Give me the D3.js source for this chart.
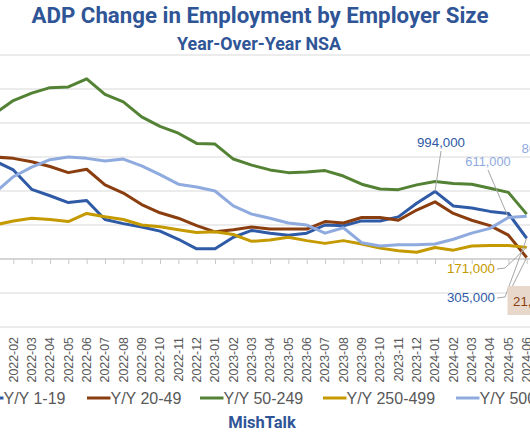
<!DOCTYPE html>
<html><head><meta charset="utf-8">
<script src="https://cdn.jsdelivr.net/npm/d3@7/dist/d3.min.js"></script>
<style>body{margin:0;background:#fff}svg{display:block}</style>
</head><body>
<script>
const months = ["2022-01","2022-02","2022-03","2022-04","2022-05","2022-06","2022-07","2022-08","2022-09","2022-10","2022-11","2022-12",
"2023-01","2023-02","2023-03","2023-04","2023-05","2023-06","2023-07","2023-08","2023-09","2023-10","2023-11","2023-12",
"2024-01","2024-02","2024-03","2024-04","2024-05","2024-06"];
const s1_19 = [1440000,1310000,1025000,930000,830000,860000,580000,520000,470000,410000,290000,150000,150000,320000,420000,380000,350000,380000,500000,490000,560000,560000,620000,820000,994000,780000,750000,700000,670000,305000];
const s20_49 = [1500000,1480000,1430000,1360000,1270000,1320000,1090000,970000,800000,680000,600000,490000,400000,430000,470000,440000,440000,440000,550000,530000,610000,610000,570000,720000,840000,670000,570000,490000,350000,21000];
const s50_249 = [2140000,2330000,2440000,2520000,2530000,2650000,2420000,2310000,2090000,1950000,1850000,1700000,1690000,1470000,1380000,1310000,1270000,1280000,1300000,1220000,1100000,1030000,1020000,1090000,1140000,1110000,1100000,1040000,980000,660000];
const s250_499 = [500000,560000,600000,580000,550000,670000,620000,580000,500000,475000,430000,390000,400000,360000,260000,280000,320000,270000,230000,270000,220000,160000,120000,100000,170000,130000,190000,200000,200000,171000];
const s500 = [975000,1210000,1350000,1460000,1500000,1480000,1440000,1470000,1370000,1240000,1100000,1060000,1000000,780000,660000,600000,530000,500000,380000,460000,240000,190000,210000,210000,220000,290000,380000,450000,611000,630000];
const seriesNames = ["Y/Y 1-19","Y/Y 20-49","Y/Y 50-249","Y/Y 250-499","Y/Y 500+"];
const yTicks = [-1000000,-500000,0,500000,1000000,1500000,2000000,2500000,3000000];
const title = "ADP Change in Employment by Employer Size";
const subtitle = "Year-Over-Year NSA";
const credit = "MishTalk";

const colors = ["#2f5aa6","#8a3d0e","#548235","#c49a00","#8eaadf"];
const allSeries = [s1_19, s20_49, s50_249, s250_499, s500];

const W = 530, H = 442;
const svg = d3.select("body").append("svg").attr("width", W).attr("height", H);
const font = "'Liberation Sans', Arial, sans-serif";

const x = d3.scalePoint().domain(months).range([-5, 526.7]);
const y = d3.scaleLinear().domain([-1000000, 3000000]).range([327, 55]);

// gridlines
svg.append("g").selectAll("line").data(yTicks.filter(d => d !== 0)).join("line")
  .attr("x1", 0).attr("x2", W).attr("y1", d => y(d)).attr("y2", d => y(d))
  .attr("stroke", "#d9d9d9").attr("stroke-width", 1.2);

// zero axis with ticks
const xAxis = d3.axisBottom(x).tickSize(5).tickFormat("");
const gx = svg.append("g").attr("transform", `translate(0,${y(0)})`).call(xAxis);
gx.select(".domain").attr("stroke", "#c8c8c8").attr("stroke-width", 1.3).attr("d", `M0,0H${W}`);
gx.selectAll(".tick line").attr("stroke", "#c8c8c8").attr("stroke-width", 1);

// x labels at bottom, rotated (first month lies outside the visible crop)
svg.append("g").selectAll("text").data(months.filter(m => x(m) > 0)).join("text")
  .attr("transform", d => `translate(${x(d)},337) rotate(-90)`)
  .attr("text-anchor", "end").attr("dy", "0.36em")
  .attr("font-family", font).attr("font-size", 12.4).attr("fill", "#595959")
  .text(d => d);

// lines
const line = d3.line().x((d, i) => x(months[i])).y(d => y(d));
allSeries.forEach((s, k) => {
  svg.append("path").datum(s).attr("d", line).attr("fill", "none")
    .attr("stroke", colors[k]).attr("stroke-width", 3).attr("stroke-linejoin", "round");
});

// titles
svg.append("text").attr("x", 260).attr("y", 23).attr("text-anchor", "middle")
  .attr("font-family", "Roboto, sans-serif").attr("font-weight", 700).attr("font-size", 22.5)
  .attr("fill", "#2f5597").attr("textLength", 457).attr("lengthAdjust", "spacingAndGlyphs").text(title);
svg.append("text").attr("x", 259).attr("y", 50).attr("text-anchor", "middle")
  .attr("font-family", "Roboto, sans-serif").attr("font-weight", 700).attr("font-size", 19)
  .attr("fill", "#2f5597").attr("textLength", 164).attr("lengthAdjust", "spacingAndGlyphs").text(subtitle);

// data labels
const fmt = d3.format(",");
function leader(pts) {
  svg.append("path").attr("d", d3.line()(pts)).attr("fill", "none").attr("stroke", "#a6a6a6").attr("stroke-width", 1);
}
const last = months.length - 1;
leader([[441, 151], [x(months[24]), y(s1_19[24])]]);
svg.append("text").attr("x", 441).attr("y", 147).attr("text-anchor", "middle").attr("font-family", font)
  .attr("font-size", 13.3).attr("fill", colors[0]).text(fmt(s1_19[24]));
leader([[488, 170], [x(months[28]), y(s500[28])]]);
svg.append("text").attr("x", 488).attr("y", 166).attr("text-anchor", "middle").attr("font-family", font)
  .attr("font-size", 12.8).attr("fill", colors[4]).text(fmt(s500[28]));
svg.append("text").attr("x", 521.5).attr("y", 153).attr("font-family", font)
  .attr("font-size", 13.3).attr("fill", colors[4]).text("806,000");
leader([[497, 269], [505, 268], [x(months[last]), y(s250_499[last])]]);
svg.append("text").attr("x", 495).attr("y", 273).attr("text-anchor", "end").attr("font-family", font)
  .attr("font-size", 13.3).attr("fill", colors[3]).text(fmt(s250_499[last]));
leader([[497, 298], [505, 297], [x(months[last]), y(s1_19[last])]]);
svg.append("text").attr("x", 495).attr("y", 302).attr("text-anchor", "end").attr("font-family", font)
  .attr("font-size", 13.3).attr("fill", colors[0]).text(fmt(s1_19[last]));
leader([[512, 287], [x(months[last]), y(s20_49[last])]]);
svg.append("rect").attr("x", 507.5).attr("y", 286).attr("width", 60).attr("height", 29).attr("fill", "#e8d8cc");
svg.append("text").attr("x", 513).attr("y", 306).attr("font-family", font)
  .attr("font-size", 13.3).attr("fill", colors[1]).text(fmt(s20_49[last]));

// legend
const legX = [-20, 87, 200, 323, 456];
const lg = svg.append("g");
seriesNames.forEach((n, k) => {
  lg.append("line").attr("x1", legX[k]).attr("x2", legX[k] + 23.5).attr("y1", 398).attr("y2", 398)
    .attr("stroke", colors[k]).attr("stroke-width", 3);
  lg.append("text").attr("x", legX[k] + 23.5).attr("y", 404).attr("font-family", font)
    .attr("font-size", 16).attr("fill", "#595959").text(n);
});

svg.append("text").attr("x", 262).attr("y", 428).attr("text-anchor", "middle")
  .attr("font-family", "Roboto, sans-serif").attr("font-weight", 700).attr("font-size", 16.5)
  .attr("fill", "#2f5597").text(credit);
</script>
</body></html>
